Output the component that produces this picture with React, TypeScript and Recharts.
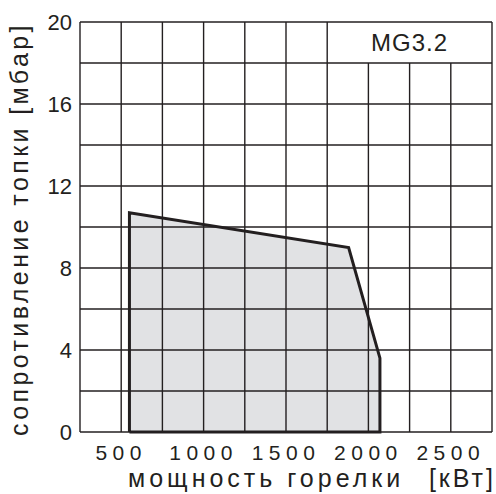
import {
  ComposedChart,
  Area,
  XAxis,
  YAxis,
  ReferenceLine,
  ReferenceArea,
} from "recharts";

// outline of the working field, walked round clockwise from the bottom left
const powerKW = [550, 550, 1880, 2070, 2070, 550];
const resistanceMbar = [0, 10.7, 9.0, 3.6, 0, 0];

const xTicks = [500, 1000, 1500, 2000, 2500];
const yTicks = [0, 4, 8, 12, 16, 20];
const xGrid = [250, 500, 750, 1000, 1250, 1500, 1750, 2000, 2250, 2500, 2750];
const yGrid = [0, 2, 4, 6, 8, 10, 12, 14, 16, 18, 20];

// the model name sits in a blank box over the top right cells
const modelName = "MG3.2";
const boxX = [1750, 2750];
const boxY = [18, 20];

const xTitle = "мощность горелки";
const xUnit = "[кВт]";
const yTitle = "сопротивление топки [мбар]";

const INK = "#231f20";
const FONT = "'Liberation Sans', Arial, sans-serif";

const data = powerKW.map((kw, i) => ({ kw, mbar: resistanceMbar[i] }));

const ModelLabel = ({ viewBox }: any) => {
  if (!viewBox) return null;
  const { x, y, width, height } = viewBox;
  return (
    <text
      x={x + width / 2}
      y={y + height / 2}
      dy="0.36em"
      textAnchor="middle"
      fontFamily={FONT}
      fontSize={24}
      letterSpacing={1}
      fill={INK}
    >
      {modelName}
    </text>
  );
};

export default function App() {
  return (
    <div style={{ position: "absolute", left: 0, top: 0, width: 496, height: 494, background: "#fff" }}>
      <ComposedChart
        width={496}
        height={494}
        data={data}
        margin={{ top: 22, right: 4, bottom: 0, left: 0 }}
      >
        <XAxis
          dataKey="kw"
          type="number"
          domain={[250, 2750]}
          ticks={xTicks}
          height={62}
          axisLine={false}
          tickLine={false}
          tickSize={0}
          tickMargin={13}
          tick={{ fill: INK, fontSize: 21, fontFamily: FONT, letterSpacing: 5.5 }}
        />
        <YAxis
          type="number"
          domain={[0, 20]}
          ticks={yTicks}
          width={80}
          axisLine={false}
          tickLine={false}
          tickSize={0}
          tickMargin={8}
          tick={{ fill: INK, fontSize: 22, fontFamily: FONT }}
        />
        {/* fill first, grid over it, outline on top, as in the print */}
        <Area
          type="linear"
          dataKey="mbar"
          stroke="none"
          fill="#e1e2e4"
          fillOpacity={1}
          dot={false}
          activeDot={false}
          isAnimationActive={false}
        />
        <ReferenceArea
          x1={boxX[0]}
          x2={boxX[1]}
          y1={boxY[0]}
          y2={boxY[1]}
          fill="#fff"
          fillOpacity={1}
          stroke="none"
          label={<ModelLabel />}
        />
        {xGrid.map((v) => {
          const insideBox = v > boxX[0] && v < boxX[1];
          return (
            <ReferenceLine
              key={`x${v}`}
              segment={[
                { x: v, y: 0 },
                { x: v, y: insideBox ? boxY[0] : 20 },
              ]}
              stroke={INK}
              strokeWidth={1.4}
            />
          );
        })}
        {yGrid.map((v) => (
          <ReferenceLine key={`y${v}`} y={v} stroke={INK} strokeWidth={1.4} />
        ))}
        <Area
          type="linear"
          dataKey="mbar"
          stroke={INK}
          strokeWidth={3}
          fill="none"
          dot={false}
          activeDot={false}
          isAnimationActive={false}
        />
        <text
          x={28}
          y={229}
          transform="rotate(-90, 28, 229)"
          textAnchor="middle"
          fontFamily={FONT}
          fontSize={25}
          letterSpacing={3.4}
          fill={INK}
        >
          {yTitle}
        </text>
        <text x={128} y={487} fontFamily={FONT} fontSize={25} letterSpacing={4} fill={INK}>
          {xTitle}
        </text>
        <text x={496} y={487} textAnchor="end" fontFamily={FONT} fontSize={25} letterSpacing={3} fill={INK}>
          {xUnit}
        </text>
      </ComposedChart>
    </div>
  );
}
